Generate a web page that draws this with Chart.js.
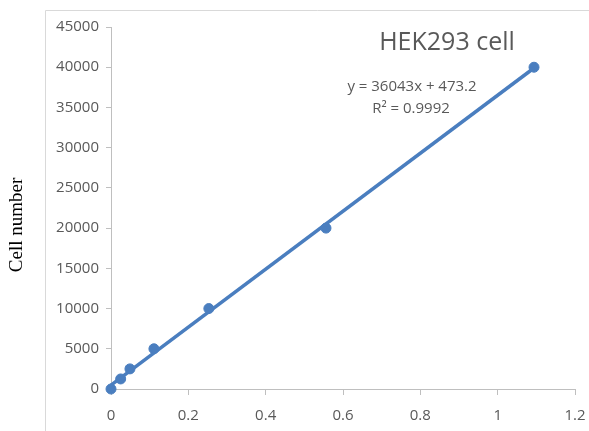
<!DOCTYPE html>
<html>
<head>
<meta charset="utf-8">
<script src="https://cdn.jsdelivr.net/npm/chart.js@4"></script>
<style>
  html, body { margin: 0; padding: 0; background: #fff; }
  #wrap { width: 589px; height: 431px; }
</style>
</head>
<body>
<div id="wrap"><canvas id="cellChart" width="589" height="431"></canvas></div>
<script>
// measured points (absorbance vs cell number)
const xValues = [0, 0.025, 0.049, 0.111, 0.253, 0.556, 1.094];
const cellCounts = [0, 1250, 2500, 5000, 10000, 20000, 40000];
// Excel linear trendline, end points
const trendX = [0, 1.094];
const trendY = [473.2, 39904];
const yTicks = [0, 5000, 10000, 15000, 20000, 25000, 30000, 35000, 40000, 45000];
const xTicks = [0, 0.2, 0.4, 0.6, 0.8, 1, 1.2];

const blue = "#4a7ebf";
const gray = "#595959";

const extras = {
  id: "extras",
  beforeDraw(chart) {
    const c = chart.ctx;
    c.save();
    c.strokeStyle = "#d9d9d9";
    c.lineWidth = 1;
    c.beginPath();
    c.moveTo(45.5, 440);
    c.lineTo(45.5, 10.5);
    c.lineTo(600, 10.5);
    c.stroke();
    c.restore();
  },
  afterDraw(chart) {
    const c = chart.ctx;
    c.save();
    c.fillStyle = gray;
    c.textAlign = "center";
    c.textBaseline = "middle";
    c.font = "25px 'Open Sans'";
    c.fillText("HEK293 cell", 447, 43);
    c.font = "15px 'Open Sans'";
    c.fillText("y = 36043x + 473.2", 412, 87);
    c.fillText("R\u00B2 = 0.9992", 411, 109);
    // y axis title
    c.fillStyle = "#000";
    c.font = "19px 'Liberation Serif'";
    c.translate(17, 225);
    c.rotate(-Math.PI / 2);
    c.fillText("Cell number", 0, 0);
    c.restore();
  }
};

new Chart(document.getElementById("cellChart"), {
  type: "scatter",
  data: {
    datasets: [
      {
        label: "Trendline",
        data: trendX.map((x, i) => ({ x: x, y: trendY[i] })),
        showLine: true,
        borderColor: blue,
        borderWidth: 3.5,
        pointRadius: 0,
        fill: false,
        clip: false,
      },
      {
        label: "Cells",
        data: xValues.map((x, i) => ({ x: x, y: cellCounts[i] })),
        backgroundColor: blue,
        borderColor: blue,
        pointRadius: 5,
        pointHoverRadius: 5,
        clip: false,
      },
    ],
  },
  options: {
    responsive: false,
    animation: false,
    layout: { padding: { left: 0, top: 27, right: 14, bottom: 0 } },
    plugins: {
      legend: { display: false },
      title: { display: false },
      tooltip: { enabled: false },
    },
    scales: {
      x: {
        type: "linear",
        min: 0,
        max: 1.2,
        afterBuildTicks: (s) => { s.ticks = xTicks.map((v) => ({ value: v })); },
        afterFit: (s) => { s.height = 42; s.paddingLeft = 0; s.paddingRight = 0; },
        grid: { drawOnChartArea: false, drawTicks: true, tickLength: 6, color: "#bfbfbf" },
        border: { color: "#bfbfbf", width: 1 },
        ticks: {
          color: gray,
          padding: 12,
          font: { family: "'Open Sans'", size: 15 },
          callback: (v) => String(Number(v.toFixed(1))),
        },
      },
      y: {
        type: "linear",
        min: 0,
        max: 45000,
        afterBuildTicks: (s) => { s.ticks = yTicks.map((v) => ({ value: v })); },
        afterFit: (s) => { s.width = 111; s.paddingTop = 0; s.paddingBottom = 0; },
        grid: { drawOnChartArea: false, drawTicks: true, tickLength: 5, color: "#bfbfbf" },
        border: { color: "#bfbfbf", width: 1 },
        ticks: {
          color: gray,
          padding: 7,
          font: { family: "'Open Sans'", size: 15 },
          callback: (v) => String(v),
        },
      },
    },
  },
  plugins: [extras],
});
</script>
</body>
</html>
